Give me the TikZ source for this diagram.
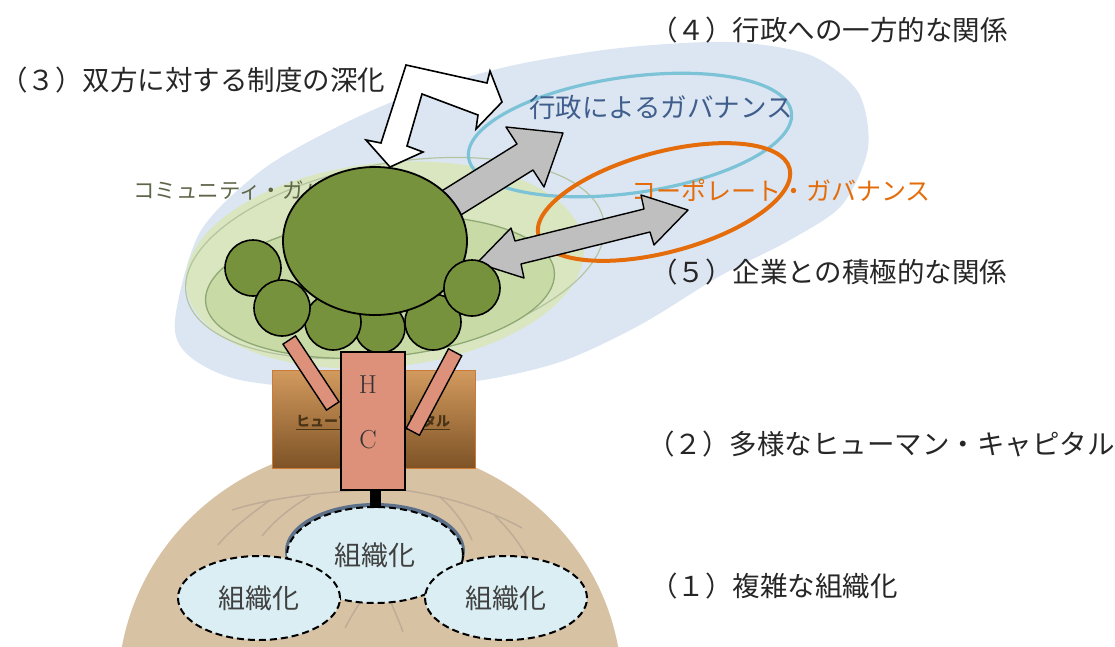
\documentclass[tikz,border=0pt]{standalone}
\usepackage{fontspec}
\newfontfamily\jp{Noto Sans CJK JP}
\usetikzlibrary{shapes.geometric}
\definecolor{bgBlue}{HTML}{DCE6F2}
\definecolor{leafGreen}{HTML}{D9E6C0}
\definecolor{ringFill}{HTML}{C8DAA6}
\definecolor{ringGreen}{HTML}{8FA874}
\definecolor{outGreen}{HTML}{B4C4A0}
\definecolor{crownGreen}{HTML}{76923C}
\definecolor{trunkRed}{HTML}{DE917A}
\definecolor{soilTan}{HTML}{D8C2A4}
\definecolor{rootGray}{HTML}{B8A794}
\definecolor{orgBlue}{HTML}{DAEEF3}
\definecolor{orgShade}{HTML}{5C7089}
\definecolor{govBlue}{HTML}{7CC3D7}
\definecolor{govText}{HTML}{3F5E8C}
\definecolor{corpOrange}{HTML}{E46C0A}
\definecolor{commText}{HTML}{5E6648}
\definecolor{arrowGray}{HTML}{BFBFBF}
\definecolor{boxTop}{HTML}{D29A5E}
\definecolor{boxBot}{HTML}{7E5326}
\definecolor{boxEdge}{HTML}{CC7A35}
\definecolor{hcText}{HTML}{4A3415}

\begin{document}
\begin{tikzpicture}[x=1pt, y=-1pt,
    numlabel/.style={anchor=west, inner sep=0pt, text=black!85, font=\jp\fontsize{27.5}{30}\selectfont},
    org/.style={ellipse, draw=black, line width=2pt, dash pattern=on 7pt off 4pt, fill=orgBlue, inner sep=0pt, text=black!75, font=\jp\fontsize{27}{30}\selectfont},
    ball/.style={circle, draw=black, line width=1.6pt, fill=crownGreen, inner sep=0pt, minimum size=#1},
    grayarrow/.style={draw=black, line width=1.4pt, fill=arrowGray, line join=round},
    branch/.style={rectangle, draw=black, line width=1.4pt, fill=trunkRed, inner sep=0pt, minimum height=15pt},
    root/.style={rootGray, line width=1.5pt, opacity=.8}]
\useasboundingbox (0,0) rectangle (1115,646);

% the two governances behind the tree
\fill[bgBlue] plot[smooth cycle] coordinates {(175,320) (200,232) (262,170) (335,128) (410,95) (510,66) (620,48) (730,42) (810,55) (858,92) (868,148) (842,205) (790,240) (720,276) (640,325) (560,362) (470,382) (350,390) (240,380) (188,355)};
\fill[leafGreen, rotate around={6:(385,265)}] (385,265) ellipse [x radius=200, y radius=102];
\draw[outGreen, line width=1.2pt, rotate around={10:(395,258)}] (395,258) ellipse [x radius=212, y radius=95];
\draw[ringGreen, fill=ringFill, line width=1.3pt, rotate around={5:(380,287)}] (380,287) ellipse [x radius=175, y radius=70];
\draw[govBlue, line width=3.2pt, rotate around={8:(630,135)}] (630,135) ellipse [x radius=163, y radius=58];
\draw[corpOrange, line width=4pt, rotate around={15:(664,202)}] (664,202) ellipse [x radius=130, y radius=50];
\node[text=govText, font=\jp\fontsize{26.5}{30}\selectfont] (gov) at (661,107) {行政によるガバナンス};
\node[text=corpOrange, font=\jp\fontsize{25}{28}\selectfont] (corp) at (781,190) {コーポレート・ガバナンス};
\node[anchor=west, inner sep=0pt, text=commText, font=\jp\fontsize{21.5}{24}\selectfont] (comm) at (133,190) {コミュニティ・ガバナンス};

% soil and roots
\fill[soilTan] (370,690) ellipse [x radius=252, y radius=245];
\draw[root] (368,490) .. controls (320,492) and (270,498) .. (232,510);
\draw[root] (310,496) .. controls (290,508) and (275,520) .. (262,536);
\draw[root] (385,488) .. controls (430,492) and (480,505) .. (522,528);
\draw[root] (495,516) .. controls (515,535) and (528,555) .. (538,582);
\draw[root] (440,497) .. controls (455,510) and (465,525) .. (472,540);
\draw[root] (270,500) .. controls (250,515) and (232,528) .. (218,545);
\draw[root] (365,595) .. controls (358,605) and (352,615) .. (345,628);
\draw[root] (388,595) .. controls (393,608) and (398,618) .. (403,632);

% organisations
\fill[orgShade] (375,551) ellipse [x radius=90, y radius=48];
\node[org, minimum width=176pt, minimum height=96pt] (orgc) at (375,555) {組織化};
\node[org, minimum width=162pt, minimum height=84pt] (orgl) at (259,598) {組織化};
\node[org, minimum width=162pt, minimum height=84pt] (orgr) at (506,598) {組織化};

% human capital box and stem
\node[draw=boxEdge, line width=1pt, top color=boxTop, bottom color=boxBot, minimum width=203pt, minimum height=98pt, inner sep=0pt] (hcbox) at (373.5,419) {};
\node[text=hcText, font=\jp\bfseries\fontsize{14}{16}\selectfont] (hclabel) at (373,422) {\underline{ヒューマン・キャピタル}};
\fill[black] (370,485) rectangle (381,508);
\fill[black] (367,338) rectangle (378,356);

% relations to the governances
\draw[grayarrow] (440,192) -- (517,144) -- (506,127) -- (563,133) -- (544,187) -- (533,170) -- (456,218) -- cycle;
\draw[grayarrow] (477,263) -- (511,228) -- (515,241) -- (644,209) -- (641,195) -- (688,210) -- (654,245) -- (650,232) -- (521,264) -- (524,278) -- cycle;

% crown
\node[ball=50pt] (c4) at (380,328) {};
\node[ball=56pt] (c1) at (253,268) {};
\node[ball=56pt] (c3) at (333,322) {};
\node[ball=56pt] (c5) at (433,322) {};
\node[ellipse, draw=black, line width=1.8pt, fill=crownGreen, minimum width=184pt, minimum height=148pt] (crown) at (375,241) {};
\node[ball=56pt] (c2) at (282,308) {};
\node[ball=56pt] (c6) at (472,288) {};

% trunk
\node[branch, minimum width=79pt, rotate=-56.6] (lbranch) at (311,373) {};
\node[branch, minimum width=90pt, rotate=62] (rbranch) at (434,392) {};
\node[draw=black, line width=1.4pt, fill=trunkRed, minimum width=64pt, minimum height=138pt] (trunk) at (373,421) {};
\node[font=\fontsize{26}{28}\selectfont, text=black!80] (h) at (368,385) {H};
\node[font=\fontsize{26}{28}\selectfont, text=black!80] (c) at (368,440) {C};

% deepening of institutions on both sides
\draw[line width=1.6pt, fill=white, line join=miter] (390,167) -- (423,152) -- (407,146) -- (422,94) -- (478,115) -- (476,129) -- (502,102) -- (490,71) -- (487,83) -- (406,65) -- (381,143) -- (366,140) -- cycle;

% numbered items
\node[numlabel] (n4) at (650,30) {（４）行政への一方的な関係};
\node[numlabel] (n3) at (0,80) {（３）双方に対する制度の深化};
\node[numlabel] (n5) at (650,272) {（５）企業との積極的な関係};
\node[numlabel] (n2) at (647,444) {（２）多様なヒューマン・キャピタル};
\node[numlabel] (n1) at (650,586) {（１）複雑な組織化};
\end{tikzpicture}
\end{document}
